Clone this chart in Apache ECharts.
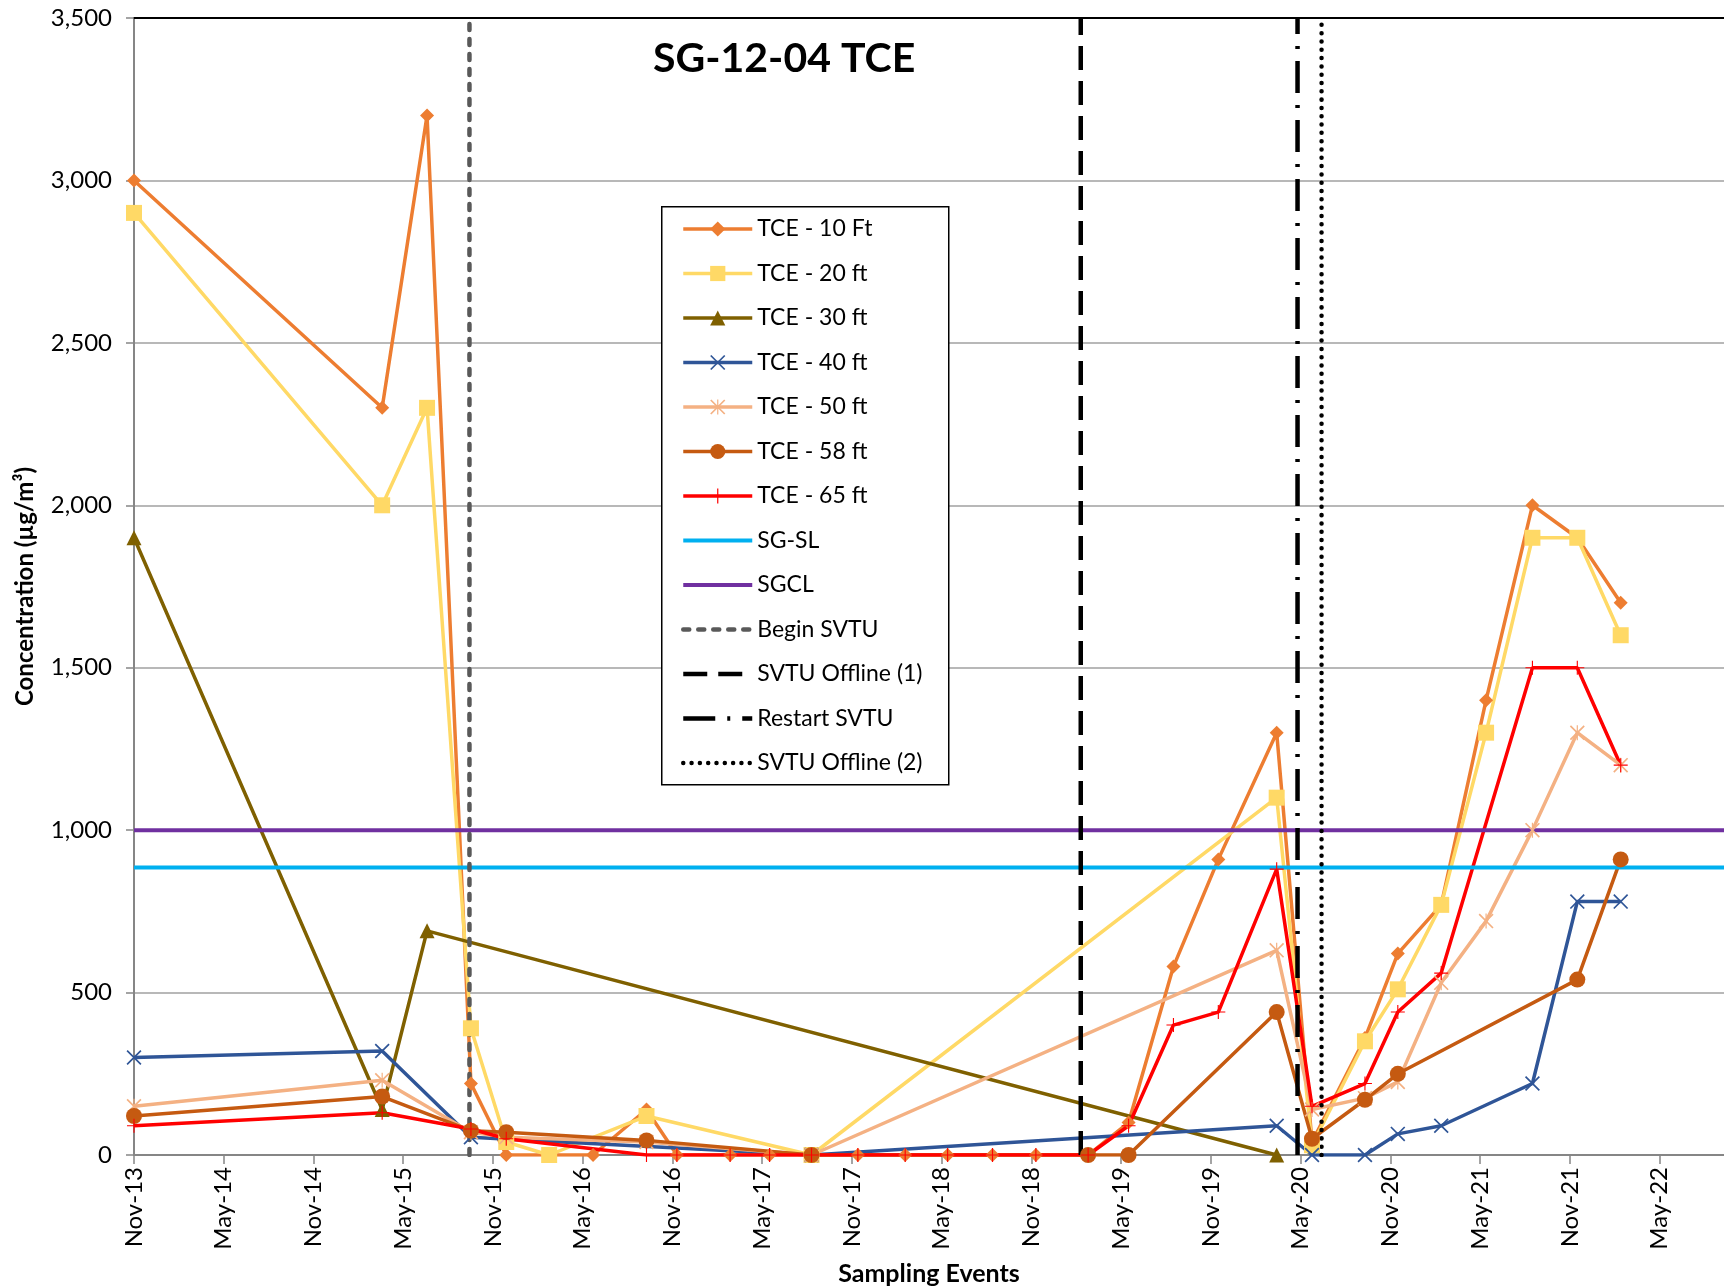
<!DOCTYPE html>
<html>
<head>
<meta charset="utf-8">
<title>SG-12-04 TCE</title>
<script src="https://cdn.jsdelivr.net/npm/echarts@6/dist/echarts.min.js"></script>
<style>
html, body { margin: 0; padding: 0; background: #fff; }
#main { width: 1724px; height: 1287px; }
</style>
</head>
<body>
<div id="main"></div>
<script>
// x tick labels, one every 6 months starting Nov-13
var tickLabels = ['Nov-13', 'May-14', 'Nov-14', 'May-15', 'Nov-15', 'May-16', 'Nov-16', 'May-17', 'Nov-17',
                  'May-18', 'Nov-18', 'May-19', 'Nov-19', 'May-20', 'Nov-20', 'May-21', 'Nov-21', 'May-22'];

// sampling events
var eventDates = ['2013-11-01', '2015-03-19', '2015-06-19', '2015-09-17', '2015-11-28', '2016-02-24',
                  '2016-05-22', '2016-09-09', '2016-11-10', '2017-02-27', '2017-05-16', '2017-08-10',
                  '2017-11-13', '2018-02-18', '2018-05-13', '2018-08-13', '2018-11-10', '2019-02-25',
                  '2019-05-16', '2019-08-16', '2019-11-16', '2020-03-13', '2020-05-24', '2020-09-10',
                  '2020-11-16', '2021-02-13', '2021-05-13', '2021-08-16', '2021-11-16', '2022-02-13'];

// concentrations (ug/m3), null = not sampled
var tce10 = [3000, 2300, 3200, 220, 0, 0, 0, 140, 0, 0, 0, 0, 0, 0, 0, 0, 0, 0,
             100, 580, 910, 1300, 40, 360, 620, 770, 1400, 2000, 1900, 1700];
var tce20 = [2900, 2000, 2300, 390, 40, 0, null, 120, null, null, null, 0, null, null, null, null, null, null,
             null, null, null, 1100, 30, 350, 510, 770, 1300, 1900, 1900, 1600];
var tce30 = [1900, 140, 690, null, null, null, null, null, null, null, null, null, null, null, null, null, null, null,
             null, null, null, 0, null, null, null, null, null, null, null, null];
var tce40 = [300, 320, null, 55, null, null, null, null, null, null, null, 0, null, null, null, null, null, null,
             null, null, null, 90, 0, 0, 65, 90, null, 220, 780, 780];
var tce50 = [150, 230, null, 70, 55, null, null, 40, null, null, null, 0, null, null, null, null, null, null,
             null, null, null, 630, 140, 175, 225, 530, 720, 1000, 1300, 1200];
var tce58 = [120, 180, null, 75, 70, null, null, 45, null, null, null, 0, null, null, null, null, null, 0,
             0, null, null, 440, 50, 170, 250, null, null, null, 540, 910];
var tce65 = [90, 130, null, 80, 50, null, null, 0, 0, 0, 0, 0, 0, 0, 0, 0, 0, 0,
             90, 400, 440, 880, 150, 220, 440, 560, null, 1500, 1500, 1200];

// screening levels
var sgSL = 885;
var sgCL = 1000;

// system events
var beginSVTU = '2015-09-14';
var offline1 = '2019-02-10';
var restartSVTU = '2020-04-25';
var offline2 = '2020-06-13';

var X_MAX = 106.3;   // months after Nov-13 at right edge of plot

// months since 1 Nov 2013
function toMonths(d) {
    var p = d.split('-');
    return (+p[0] - 2013) * 12 + (+p[1] - 11) + (+p[2] - 1) / 30.44;
}

function pairs(vals) {
    var out = [];
    for (var i = 0; i < vals.length; i++) {
        if (vals[i] != null) out.push([toMonths(eventDates[i]), vals[i]]);
    }
    return out;
}

function vline(d) {
    var m = toMonths(d);
    return [[m, 0], [m, 3500]];
}

// marker shapes
var xMark = 'path://M0,0.8L0.8,0L10,9.2L9.2,10Z M0.8,10L0,9.2L9.2,0L10,0.8Z';
var starMark = 'path://M0,0.8L0.8,0L10,9.2L9.2,10Z M0.8,10L0,9.2L9.2,0L10,0.8Z M4.6,0L5.4,0L5.4,10L4.6,10Z';
var plusMark = 'path://M4.6,0L5.4,0L5.4,10L4.6,10Z M0,4.6L10,4.6L10,5.4L0,5.4Z';

var font = 'Lato';

function dataSeries(name, vals, color, symbol, size) {
    return {
        name: name,
        type: 'line',
        data: pairs(vals),
        symbol: symbol,
        symbolSize: size,
        showAllSymbol: true,
        lineStyle: { color: color, width: 3.5 },
        itemStyle: { color: color },
        emphasis: { disabled: true }
    };
}

function refSeries(name, data, color, width, type, cap) {
    return {
        name: name,
        type: 'line',
        data: data,
        symbol: 'none',
        lineStyle: { color: color, width: width, type: type, cap: cap || 'butt' },
        itemStyle: { color: color },
        emphasis: { disabled: true }
    };
}

var myChart = echarts.init(document.getElementById('main'));

var option = {
    animation: false,
    backgroundColor: '#fff',
    title: {
        text: 'SG-12-04 TCE',
        left: 653,
        top: 38,
        padding: 0,
        textStyle: { fontFamily: font, fontSize: 41, fontWeight: 'bold', color: '#000' }
    },
    grid: { left: 134, right: 0, top: 18, bottom: 132, outerBoundsMode: 'none' },
    xAxis: [{
        type: 'value',
        min: 0,
        max: X_MAX,
        interval: 6,
        name: 'Sampling Events',
        nameLocation: 'middle',
        nameGap: 106,
        nameTextStyle: { fontFamily: font, fontSize: 25, fontWeight: 'bold', color: '#000' },
        axisLine: { lineStyle: { color: '#868686', width: 2 } },
        axisTick: { show: true, length: 9, lineStyle: { color: '#868686', width: 1.5 } },
        axisLabel: {
            rotate: 90,
            margin: 12,
            fontFamily: font,
            fontSize: 24,
            color: '#000',
            showMaxLabel: false,
            formatter: function (v) {
                var i = Math.round(v / 6);
                return Math.abs(v - i * 6) < 1e-6 && tickLabels[i] ? tickLabels[i] : '';
            }
        },
        splitLine: { show: false }
    }, {
        type: 'value',
        position: 'top',
        min: 0,
        max: X_MAX,
        axisLine: { lineStyle: { color: '#000', width: 2 } },
        axisTick: { show: false },
        axisLabel: { show: false },
        splitLine: { show: false }
    }],
    yAxis: {
        type: 'value',
        min: 0,
        max: 3500,
        interval: 500,
        name: 'Concentration (µg/m³)',
        nameLocation: 'middle',
        nameGap: 97,
        nameRotate: 90,
        nameTextStyle: { fontFamily: font, fontSize: 24, fontWeight: 'bold', color: '#000' },
        axisLine: { show: true, lineStyle: { color: '#868686', width: 2 } },
        axisTick: { show: true, length: 8, lineStyle: { color: '#868686', width: 1.5 } },
        axisLabel: {
            margin: 22,
            fontFamily: font,
            fontSize: 24,
            color: '#000',
            formatter: function (v) { return v.toLocaleString('en-US'); }
        },
        splitLine: { lineStyle: { color: '#a0a0a0', width: 1.5 } }
    },
    legend: {
        orient: 'vertical',
        left: 681,
        top: 217,
        padding: 0,
        itemWidth: 69,
        itemHeight: 19,
        itemGap: 20.5,
        selectedMode: false,
        lineStyle: { width: 'inherit' },
        textStyle: { fontFamily: font, fontSize: 23, color: '#000', lineHeight: 24 },
        data: ['TCE - 10 Ft', 'TCE - 20 ft', 'TCE - 30 ft', 'TCE - 40 ft', 'TCE - 50 ft', 'TCE - 58 ft', 'TCE - 65 ft',
            { name: 'SG-SL', itemStyle: { opacity: 0 } },
            { name: 'SGCL', itemStyle: { opacity: 0 } },
            { name: 'Begin SVTU', itemStyle: { opacity: 0 } },
            { name: 'SVTU Offline (1)', itemStyle: { opacity: 0 } },
            { name: 'Restart SVTU', itemStyle: { opacity: 0 } },
            { name: 'SVTU Offline (2)', itemStyle: { opacity: 0 } }]
    },
    graphic: [{
        type: 'rect',
        left: 661,
        top: 206,
        z: 3,
        shape: { width: 287, height: 578 },
        style: { fill: '#fff', stroke: '#000', lineWidth: 1.5 }
    }],
    series: [
        dataSeries('TCE - 10 Ft', tce10, '#ED7D31', 'diamond', 14),
        dataSeries('TCE - 20 ft', tce20, '#FFD966', 'rect', 16),
        dataSeries('TCE - 30 ft', tce30, '#7F6000', 'triangle', 15),
        dataSeries('TCE - 40 ft', tce40, '#2F5597', xMark, 15),
        dataSeries('TCE - 50 ft', tce50, '#F4B183', starMark, 15),
        dataSeries('TCE - 58 ft', tce58, '#C55A11', 'circle', 16),
        dataSeries('TCE - 65 ft', tce65, '#FF0000', plusMark, 14),
        refSeries('SG-SL', [[0, sgSL], [X_MAX, sgSL]], '#00B0F0', 4, 'solid'),
        refSeries('SGCL', [[0, sgCL], [X_MAX, sgCL]], '#7030A0', 4, 'solid'),
        refSeries('Begin SVTU', vline(beginSVTU), '#595959', 4.5, [6, 9], 'round'),
        refSeries('SVTU Offline (1)', vline(offline1), '#000', 4.5, [24, 11]),
        refSeries('Restart SVTU', vline(restartSVTU), '#000', 4.5, [32, 12, 3, 12]),
        refSeries('SVTU Offline (2)', vline(offline2), '#000', 4.5, [0.01, 8.3], 'round')
    ]
};

myChart.setOption(option);
</script>
</body>
</html>
